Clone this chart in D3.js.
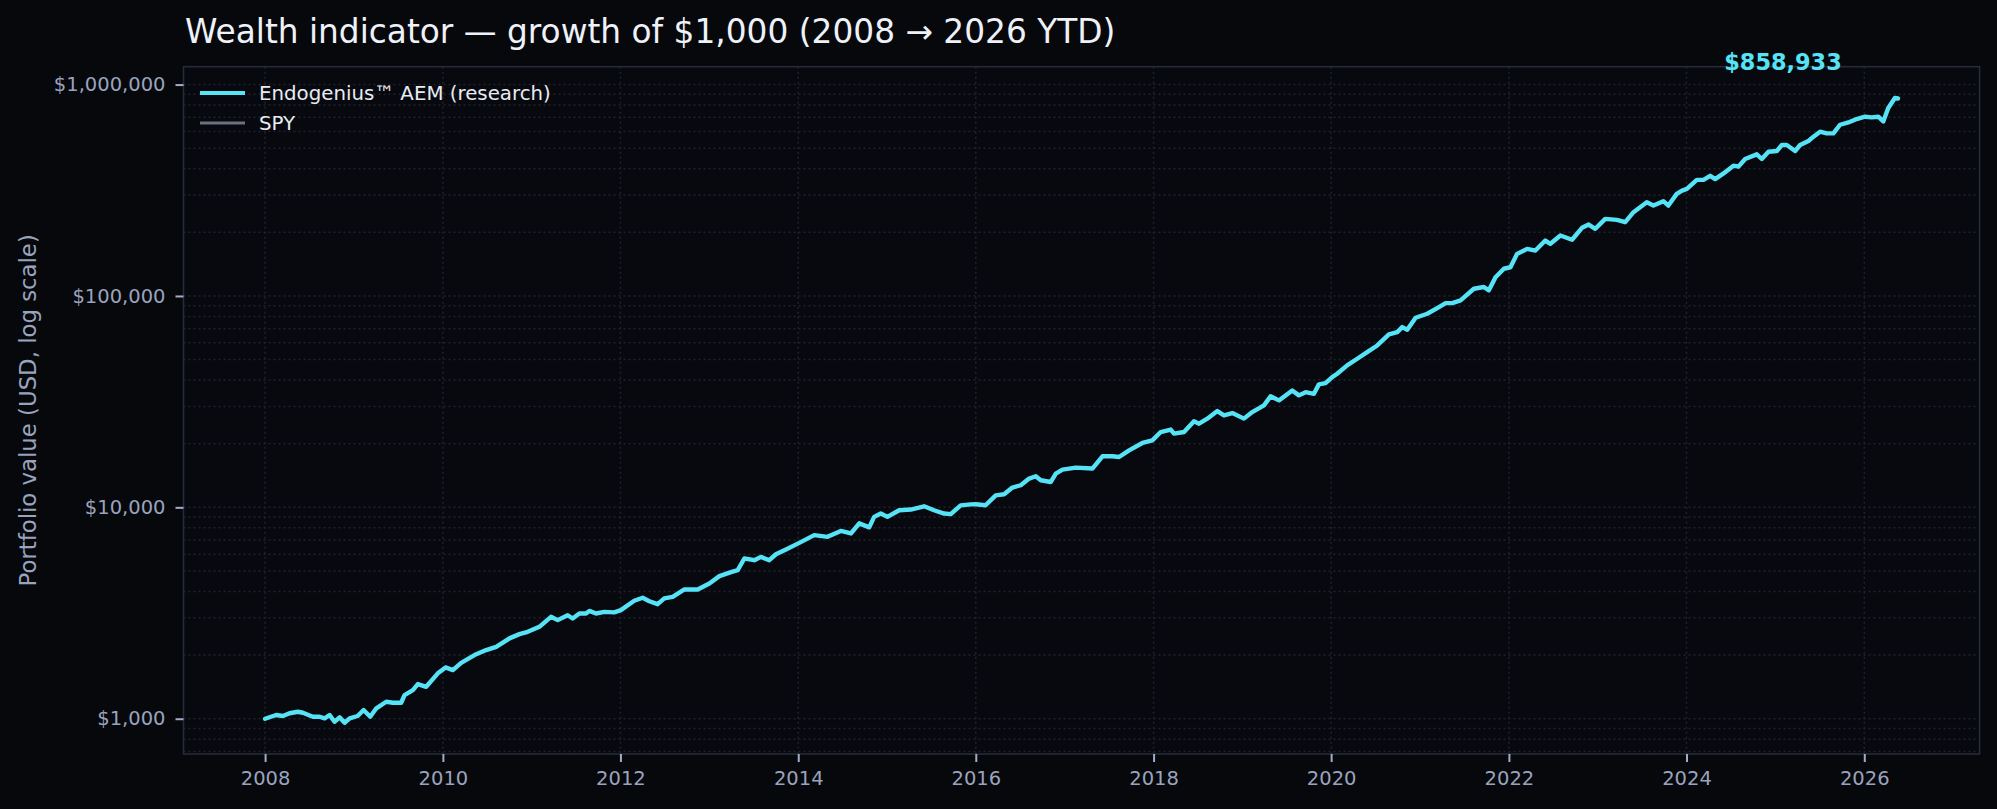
<!DOCTYPE html>
<html>
<head>
<meta charset="utf-8">
<title>Wealth indicator</title>
<script src="https://cdn.jsdelivr.net/npm/d3@7"></script>
<style>
    body { margin: 0; background: #06080c; }
    svg { display: block; font-family: "DejaVu Sans", sans-serif; }
    .grid line { stroke: #1f232d; stroke-width: 1.5px; stroke-dasharray: 2,3; }
    .axis path { display: none; }
    .axis line { stroke: #a3adc8; stroke-width: 2px; }
    .axis text { fill: #9aa3bd; font-size: 19.5px; font-family: "DejaVu Sans", sans-serif; }
</style>
</head>
<body>
<script>
// decimal years
var dates = [
    2008.0, 2008.125, 2008.2, 2008.275, 2008.369, 2008.425, 2008.537, 2008.612, 2008.669, 2008.725,
    2008.78, 2008.837, 2008.893, 2008.95, 2009.04, 2009.107, 2009.182, 2009.25, 2009.362, 2009.437,
    2009.53, 2009.568, 2009.662, 2009.718, 2009.812, 2009.943, 2010.03, 2010.112, 2010.206, 2010.356,
    2010.487, 2010.6, 2010.75, 2010.862, 2010.956, 2011.087, 2011.218, 2011.293, 2011.406, 2011.462,
    2011.537, 2011.612, 2011.65, 2011.725, 2011.818, 2011.93,
    2012.005, 2012.155, 2012.25, 2012.325, 2012.418, 2012.493, 2012.587, 2012.718, 2012.868, 2012.999,
    2013.112, 2013.243, 2013.318, 2013.393, 2013.506, 2013.58, 2013.674, 2013.749, 2013.862, 2014.012,
    2014.18, 2014.33, 2014.48, 2014.593, 2014.687, 2014.8, 2014.855, 2014.93, 2015.005, 2015.137,
    2015.268, 2015.418, 2015.53, 2015.643, 2015.718, 2015.83, 2015.943,
    2016.0, 2016.11, 2016.224, 2016.318, 2016.411, 2016.505, 2016.599, 2016.674, 2016.73, 2016.843,
    2016.899, 2016.974, 2017.124, 2017.311, 2017.424, 2017.536, 2017.611, 2017.724, 2017.874, 2017.986,
    2018.08, 2018.193, 2018.23, 2018.343, 2018.455, 2018.512, 2018.605, 2018.718, 2018.793, 2018.887,
    2019.018, 2019.112, 2019.243, 2019.318, 2019.412, 2019.562, 2019.637, 2019.712, 2019.806, 2019.862,
    2019.937, 2020.012,
    2020.068, 2020.18, 2020.293, 2020.405, 2020.518, 2020.649, 2020.743, 2020.799, 2020.855, 2020.949,
    2021.08, 2021.212, 2021.287, 2021.362, 2021.455, 2021.605, 2021.718, 2021.774, 2021.849, 2021.943,
    2022.017, 2022.092, 2022.205, 2022.298, 2022.41, 2022.467, 2022.58, 2022.711, 2022.823, 2022.898,
    2022.973, 2023.085, 2023.216, 2023.31, 2023.403, 2023.478, 2023.553, 2023.628, 2023.74, 2023.796,
    2023.89, 2023.95,
    2024.004, 2024.116, 2024.191, 2024.266, 2024.322, 2024.416, 2024.528, 2024.584, 2024.659, 2024.79,
    2024.846, 2024.921, 2025.015, 2025.071, 2025.127, 2025.221, 2025.277, 2025.371, 2025.428, 2025.502,
    2025.577, 2025.652, 2025.727, 2025.821, 2025.914, 2026.008, 2026.083, 2026.158, 2026.214, 2026.27,
    2026.345, 2026.38
];

// Endogenius AEM portfolio value, USD
var aem = [
    1000, 1041, 1030, 1061, 1079, 1067, 1022, 1022, 1004, 1041,
    968, 1015, 957, 1004, 1030, 1099, 1022, 1120, 1203, 1190,
    1190, 1294, 1366, 1459, 1416, 1639, 1749, 1699, 1839, 2000,
    2112, 2189, 2399, 2513, 2577, 2721, 3035, 2927, 3088, 2980,
    3146, 3146, 3237, 3146, 3204, 3186,
    3264, 3614, 3735, 3597, 3483, 3707, 3773, 4088, 4088, 4365,
    4726, 4934, 5044, 5727, 5623, 5830, 5623, 5998, 6320, 6792,
    7385, 7250, 7738, 7521, 8401, 8043, 9012, 9347, 9012, 9690,
    9761, 10115, 9690, 9347, 9289, 10220, 10333,
    10343, 10233, 11400, 11530, 12404, 12720, 13680, 14030, 13430, 13180,
    14450, 15090, 15420, 15260, 17440, 17440, 17300, 18610, 20160, 20750,
    22710, 23330, 22330, 22710, 25520, 24880, 26280, 28550, 27230, 27920,
    26280, 28230, 30380, 33500, 32060, 35730, 33860, 35070, 34450, 38160,
    38720, 41330,
    42870, 46950, 50470, 54240, 58320, 65760, 67440, 71230, 69200, 78860,
    82400, 88600, 92500, 92500, 95300, 108200, 110200, 106300, 122700, 134500,
    136700, 158200, 167000, 164000, 182900, 176500, 193200, 184500, 210000, 217600,
    207800, 231600, 229100, 223300, 249000, 262700, 277500, 267700, 280700, 267700,
    304000, 315000,
    320800, 354000, 354000, 370200, 357100, 380000, 413400, 408900, 444600, 467700,
    444600, 481400, 485100, 517600, 517600, 485100, 517600, 540800, 566900, 598400,
    587500, 587500, 645600, 662200, 687100, 704600, 699300, 704600, 669500, 774300,
    864500, 858933
];

var seriesNames = ["Endogenius™ AEM (research)", "SPY"];
var yTicks = [1000, 10000, 100000, 1000000];
var title = "Wealth indicator — growth of $1,000 (2008 → 2026 YTD)";
var yLabel = "Portfolio value (USD, log scale)";

var width = 1997, height = 809;
var plotLeft = 183.5, plotRight = 1979.6, plotTop = 66.7, plotBottom = 754;
var cyan = "#56e3f6";

function toDate(y) {
    var yr = Math.floor(y);
    var a = Date.UTC(yr, 0, 1), b = Date.UTC(yr + 1, 0, 1);
    return new Date(a + (y - yr) * (b - a));
}

var data = dates.map(function(d, i) { return { date: toDate(d), value: aem[i] }; });

// 5% margins like the original plot
var xPad = (dates[dates.length - 1] - dates[0]) * 0.05;
var x = d3.scaleUtc()
    .domain([toDate(dates[0] - xPad), toDate(dates[dates.length - 1] + xPad)])
    .range([plotLeft, plotRight]);

var lo = Math.log10(d3.min(aem)), hi = Math.log10(d3.max(aem));
var yPad = (hi - lo) * 0.05;
var y = d3.scaleLog()
    .domain([Math.pow(10, lo - yPad), Math.pow(10, hi + yPad)])
    .range([plotBottom, plotTop]);

var svg = d3.select("body").append("svg")
    .attr("width", width)
    .attr("height", height);

svg.append("rect").attr("width", width).attr("height", height).attr("fill", "#06080c");
svg.append("rect")
    .attr("x", plotLeft).attr("y", plotTop)
    .attr("width", plotRight - plotLeft).attr("height", plotBottom - plotTop)
    .attr("fill", "#07090e");

// grid: major + minor decades, every other year
var minor = [];
for (var e = 2; e <= 6; e++) {
    for (var m = 1; m <= 9; m++) {
        var v = m * Math.pow(10, e);
        if (v >= y.domain()[0] && v <= y.domain()[1]) minor.push(v);
    }
}
var grid = svg.append("g").attr("class", "grid");
grid.selectAll(".hg").data(minor).enter().append("line")
    .attr("x1", plotLeft).attr("x2", plotRight)
    .attr("y1", function(d) { return y(d); })
    .attr("y2", function(d) { return y(d); });
grid.selectAll(".vg").data(x.ticks(d3.utcYear.every(2))).enter().append("line")
    .attr("x1", function(d) { return x(d); })
    .attr("x2", function(d) { return x(d); })
    .attr("y1", plotTop).attr("y2", plotBottom);

// line
var line = d3.line()
    .x(function(d) { return x(d.date); })
    .y(function(d) { return y(d.value); });

svg.append("path")
    .datum(data)
    .attr("d", line)
    .attr("fill", "none")
    .attr("stroke", cyan)
    .attr("stroke-width", 4.4)
    .attr("stroke-linejoin", "round")
    .attr("stroke-linecap", "round");

// spines
svg.append("rect")
    .attr("x", plotLeft).attr("y", plotTop)
    .attr("width", plotRight - plotLeft).attr("height", plotBottom - plotTop)
    .attr("fill", "none")
    .attr("stroke", "#262b3a")
    .attr("stroke-width", 1.6);

// axes
svg.append("g")
    .attr("class", "axis")
    .attr("transform", "translate(" + plotLeft + ",0)")
    .call(d3.axisLeft(y)
        .tickValues(yTicks)
        .tickFormat(function(d) { return "$" + d3.format(",")(d); })
        .tickSize(8)
        .tickPadding(10));

svg.append("g")
    .attr("class", "axis")
    .attr("transform", "translate(0," + plotBottom + ")")
    .call(d3.axisBottom(x)
        .ticks(d3.utcYear.every(2))
        .tickFormat(d3.utcFormat("%Y"))
        .tickSize(8)
        .tickPadding(9));

// title + y label
svg.append("text")
    .attr("x", 185).attr("y", 43)
    .attr("fill", "#eef2f8")
    .style("font-size", "32.8px")
    .text(title);

svg.append("text")
    .attr("transform", "translate(28," + ((plotTop + plotBottom) / 2) + ") rotate(-90)")
    .attr("text-anchor", "middle")
    .attr("dominant-baseline", "central")
    .attr("fill", "#9aa3bd")
    .style("font-size", "22.8px")
    .text(yLabel);

// legend
var legendColors = [cyan, "#6b7180"];
var legendWidths = [4.2, 3];
var lg = svg.append("g").attr("transform", "translate(200,93)");
seriesNames.forEach(function(name, i) {
    lg.append("line")
        .attr("x1", 0).attr("x2", 45)
        .attr("y1", i * 30).attr("y2", i * 30)
        .attr("stroke", legendColors[i])
        .attr("stroke-width", legendWidths[i]);
    lg.append("text")
        .attr("x", 59).attr("y", i * 30)
        .attr("dominant-baseline", "central")
        .attr("fill", "#e8ecf3")
        .style("font-size", "19.8px")
        .text(name);
});

// final value label
var last = data[data.length - 1];
svg.append("text")
    .attr("x", x(last.date) - 115)
    .attr("y", y(last.value) - 29)
    .attr("text-anchor", "middle")
    .attr("fill", cyan)
    .style("font-size", "22.4px")
    .style("font-weight", "bold")
    .text("$" + d3.format(",")(last.value));
</script>
</body>
</html>
